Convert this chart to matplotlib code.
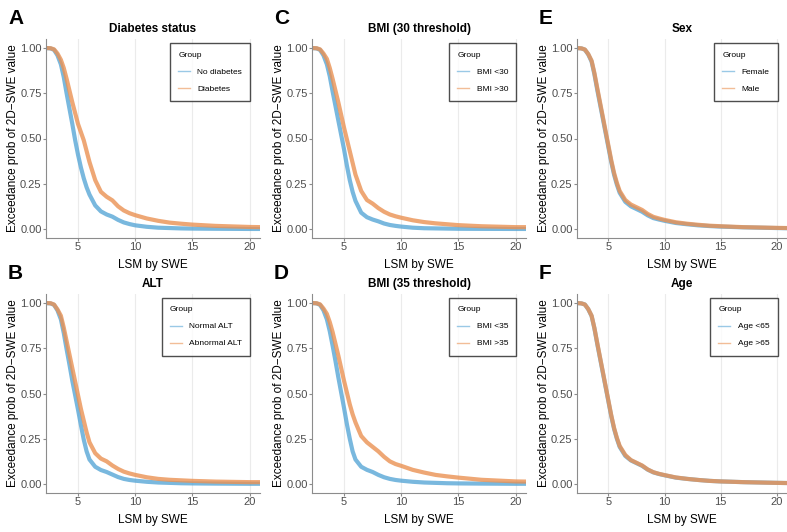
import matplotlib
matplotlib.use("Agg")
import matplotlib.pyplot as plt
from matplotlib.lines import Line2D

plt.rcParams['font.family'] = ['Liberation Sans', 'DejaVu Sans']

# common LSM grid (kPa)
lsm = [2.2, 2.6, 2.9, 3.2, 3.5, 3.75, 4, 4.25, 4.5, 4.75, 5, 5.25, 5.5, 5.75, 6, 6.5, 7, 7.5, 8, 8.5,
       9, 9.5, 10, 11, 12, 13, 14, 15, 17, 20, 21]

# A - diabetes
no_diab = [1.0, 0.998, 0.99, 0.96, 0.91, 0.84, 0.75, 0.665, 0.58, 0.49, 0.41, 0.34, 0.28, 0.23, 0.19, 0.13,
           0.097, 0.08, 0.068, 0.05, 0.036, 0.027, 0.02, 0.012, 0.007, 0.005, 0.003, 0.002, 0.001, 0.0, 0.0]
diab = [1.0, 0.999, 0.993, 0.97, 0.935, 0.89, 0.83, 0.765, 0.70, 0.64, 0.58, 0.535, 0.49, 0.43, 0.37, 0.27,
        0.205, 0.178, 0.158, 0.125, 0.102, 0.087, 0.076, 0.058, 0.045, 0.035, 0.029, 0.024, 0.017, 0.011, 0.01]

# B - ALT
alt_norm = [1.0, 0.998, 0.99, 0.96, 0.91, 0.835, 0.745, 0.66, 0.57, 0.49, 0.41, 0.325, 0.245, 0.18, 0.135, 0.095,
            0.077, 0.066, 0.052, 0.038, 0.028, 0.022, 0.018, 0.012, 0.008, 0.006, 0.004, 0.003, 0.002, 0.001, 0.001]
alt_abn = [1.0, 0.999, 0.992, 0.965, 0.93, 0.865, 0.79, 0.715, 0.64, 0.565, 0.49, 0.415, 0.35, 0.285, 0.23, 0.17,
           0.14, 0.125, 0.102, 0.083, 0.068, 0.058, 0.05, 0.037, 0.028, 0.023, 0.02, 0.017, 0.013, 0.01, 0.01]

# C - BMI 30
bmi30_lo = [1.0, 0.998, 0.99, 0.96, 0.91, 0.845, 0.76, 0.68, 0.60, 0.52, 0.44, 0.35, 0.27, 0.205, 0.155, 0.09,
            0.065, 0.052, 0.042, 0.03, 0.022, 0.017, 0.013, 0.007, 0.004, 0.003, 0.002, 0.001, 0.0005, 0.0, 0.0]
bmi30_hi = [1.0, 0.999, 0.993, 0.97, 0.94, 0.89, 0.83, 0.765, 0.70, 0.63, 0.56, 0.495, 0.43, 0.365, 0.30, 0.21,
            0.16, 0.14, 0.115, 0.095, 0.08, 0.07, 0.062, 0.048, 0.038, 0.031, 0.026, 0.021, 0.015, 0.01, 0.01]

# D - BMI 35
bmi35_lo = [1.0, 0.998, 0.99, 0.96, 0.91, 0.845, 0.765, 0.68, 0.59, 0.505, 0.42, 0.33, 0.25, 0.18, 0.135, 0.095,
            0.078, 0.066, 0.05, 0.037, 0.028, 0.022, 0.018, 0.012, 0.008, 0.006, 0.004, 0.003, 0.002, 0.001, 0.001]
bmi35_hi = [1.0, 0.999, 0.993, 0.97, 0.94, 0.895, 0.84, 0.775, 0.71, 0.64, 0.57, 0.505, 0.44, 0.385, 0.34, 0.265,
            0.23, 0.205, 0.18, 0.15, 0.125, 0.11, 0.10, 0.078, 0.063, 0.05, 0.042, 0.035, 0.023, 0.014, 0.013]

# E - sex
female = [1.0, 0.998, 0.991, 0.965, 0.925, 0.855, 0.77, 0.69, 0.61, 0.53, 0.45, 0.37, 0.30, 0.245, 0.20, 0.15,
          0.125, 0.11, 0.095, 0.075, 0.06, 0.052, 0.045, 0.033, 0.026, 0.02, 0.016, 0.013, 0.009, 0.005, 0.004]
male = [1.0, 0.998, 0.992, 0.967, 0.93, 0.862, 0.78, 0.70, 0.62, 0.54, 0.46, 0.38, 0.31, 0.255, 0.21, 0.16,
        0.135, 0.12, 0.105, 0.083, 0.067, 0.058, 0.05, 0.037, 0.029, 0.023, 0.018, 0.015, 0.01, 0.006, 0.005]

# F - age
age_lo = [1.0, 0.998, 0.992, 0.966, 0.928, 0.86, 0.775, 0.695, 0.615, 0.535, 0.455, 0.375, 0.305, 0.25, 0.205, 0.155,
          0.13, 0.115, 0.10, 0.079, 0.064, 0.055, 0.048, 0.035, 0.028, 0.022, 0.017, 0.014, 0.01, 0.006, 0.005]
age_hi = [1.0, 0.998, 0.992, 0.967, 0.93, 0.862, 0.78, 0.70, 0.62, 0.54, 0.46, 0.38, 0.31, 0.255, 0.21, 0.16,
          0.132, 0.117, 0.102, 0.08, 0.065, 0.056, 0.049, 0.036, 0.028, 0.022, 0.017, 0.014, 0.01, 0.006, 0.005]

panels = [
    ("A", "Diabetes status", ["No diabetes", "Diabetes"], [no_diab, diab]),
    ("B", "ALT", ["Normal ALT", "Abnormal ALT"], [alt_norm, alt_abn]),
    ("C", "BMI (30 threshold)", ["BMI <30", "BMI >30"], [bmi30_lo, bmi30_hi]),
    ("D", "BMI (35 threshold)", ["BMI <35", "BMI >35"], [bmi35_lo, bmi35_hi]),
    ("E", "Sex", ["Female", "Male"], [female, male]),
    ("F", "Age", ["Age <65", "Age >65"], [age_lo, age_hi]),
]

colors = ["#57A6D6", "#EA9152"]
W, H = 787, 532
fig = plt.figure(figsize=(W / 100, H / 100), dpi=100)

lefts = [46, 312, 577]
widths = [214, 214, 210]
tops = [39, 294]
ah = 199

for i, (letter, title, labels, series) in enumerate(panels):
    col, row = i // 2, i % 2
    l, t, aw = lefts[col], tops[row], widths[col]
    ax = fig.add_axes([l / W, 1 - (t + ah) / H, aw / W, ah / H])
    for ys, c in zip(series, colors):
        ax.plot(lsm, ys, color=c, lw=3.0, alpha=0.8, solid_capstyle='round', solid_joinstyle='round')
    ax.set_xlim(2.2, 20.9)
    ax.set_ylim(-0.05, 1.05)
    ax.set_xticks([5, 10, 15, 20])
    ax.set_yticks([0, 0.25, 0.5, 0.75, 1.0])
    ax.set_yticklabels(["0.00", "0.25", "0.50", "0.75", "1.00"])
    ax.grid(axis='x', color='#EBEBEB', lw=0.8)
    ax.set_axisbelow(True)
    for s in ['top', 'right']:
        ax.spines[s].set_visible(False)
    for s in ['left', 'bottom']:
        ax.spines[s].set_color('#8C8C8C')
        ax.spines[s].set_linewidth(0.8)
    ax.tick_params(colors='#8C8C8C', labelcolor='#4D4D4D', labelsize=8, length=2, width=0.8, pad=1.2)
    ax.set_xlabel("LSM by SWE", fontsize=8.5, labelpad=5)
    ax.set_ylabel("Exceedance prob of 2D\u2212SWE value", fontsize=8.5, labelpad=1)
    ax.set_title(title, fontsize=8.5, fontweight='bold', pad=5)
    handles = [Line2D([], [], color=c, lw=1.0, alpha=0.6) for c in colors]
    leg = ax.legend(handles, labels, title="Group", loc='upper right', fontsize=6,
                    title_fontsize=6, frameon=True, fancybox=False, edgecolor='#222222',
                    handlelength=1.4, handletextpad=0.9, borderpad=1.0, labelspacing=1.1,
                    bbox_to_anchor=(0.975, 1.0))
    leg.get_frame().set_linewidth(1.0)
    leg._legend_box.align = "left"
    fig.text((l - 38) / W, 1 - (t - 30) / H, letter, fontsize=15, fontweight='bold',
             ha='left', va='top')

fig.savefig("out.png", dpi=100)
